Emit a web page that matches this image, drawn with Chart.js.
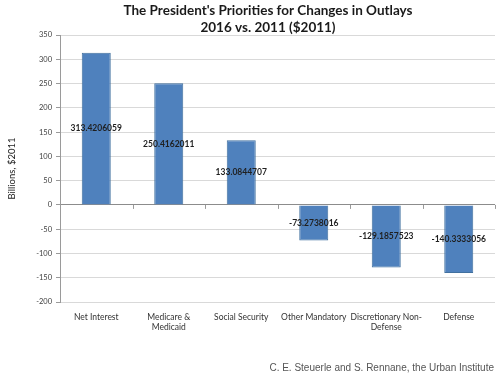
<!DOCTYPE html>
<html><head><meta charset="utf-8">
<script src="https://cdn.jsdelivr.net/npm/chart.js@4"></script>
<style>html,body{margin:0;padding:0;background:#fff}#wrap{width:500px;height:378px;position:relative}</style>
</head><body><div id="wrap"><canvas id="c" width="500" height="378"></canvas></div>
<script>
const categories = [["Net Interest"], ["Medicare &", "Medicaid"], ["Social Security"], ["Other Mandatory"], ["Discretionary Non-", "Defense"], ["Defense"]];
const values = [313.4206059, 250.4162011, 133.0844707, -73.2738016, -129.1857523, -140.3333056];
const valueLabels = ["313.4206059", "250.4162011", "133.0844707", "-73.2738016", "-129.1857523", "-140.3333056"];
const titleLines = ["The President's Priorities for Changes in Outlays", "2016 vs. 2011 ($2011)"];
const yTitle = "Billions, $2011";
const footer = "C. E. Steuerle and S. Rennane, the Urban Institute";
const yMin = -200, yMax = 350, yStep = 50;

const decor = {
  id: 'decor',
  afterDatasetsDraw(chart) {
    const ctx = chart.ctx;
    const x = chart.scales.x, y = chart.scales.y;
    const y0 = y.getPixelForValue(0);
    // category tick marks on zero axis
    ctx.save();
    ctx.strokeStyle = '#9a9a9a';
    ctx.lineWidth = 1;
    const n = categories.length;
    const half = (x.getPixelForValue(1) - x.getPixelForValue(0)) / 2;
    for (let i = 0; i <= n; i++) {
      const px = Math.round(x.getPixelForValue(i) - half) + 0.5;
      ctx.beginPath(); ctx.moveTo(px, y0); ctx.lineTo(px, y0 + 4); ctx.stroke();
    }
    // value labels
    const meta = chart.getDatasetMeta(0);
    ctx.font = 'bold 8.5px Lato';
    ctx.fillStyle = '#1f1f1f';
    ctx.textAlign = 'center';
    ctx.textBaseline = 'middle';
    meta.data.forEach((el, i) => {
      ctx.fillText(valueLabels[i], el.x, (el.y + el.base) / 2);
    });
    // title
    ctx.font = 'bold 13.5px Lato';
    ctx.fillStyle = '#1a1a1a';
    titleLines.forEach((t, i) => ctx.fillText(t, 268, 11 + i * 17));
    // footer
    ctx.font = '10px "Liberation Sans"';
    ctx.fillStyle = '#555';
    ctx.textAlign = 'right';
    ctx.fillText(footer, 494, 368);
    ctx.restore();
  }
};

new Chart(document.getElementById('c'), {
  type: 'bar',
  data: {
    labels: categories,
    datasets: [{
      data: values,
      backgroundColor: '#4f81bd',
      borderColor: '#41709f',
      borderWidth: 1,
      barPercentage: 0.4,
      categoryPercentage: 1.0
    }]
  },
  options: {
    responsive: false,
    animation: false,
    devicePixelRatio: 1,
    layout: { padding: { top: 35, right: 5, left: 0, bottom: 0 } },
    plugins: { legend: { display: false }, tooltip: { enabled: false }, title: { display: false } },
    scales: {
      x: {
        grid: { display: false, drawTicks: false },
        border: { display: false },
        ticks: { font: { family: 'Lato', size: 8.5 }, color: '#333', padding: 10, maxRotation: 0, autoSkip: false },
        afterFit(s) { s.height = 76; }
      },
      y: {
        min: yMin, max: yMax,
        ticks: { stepSize: yStep, font: { family: 'Lato', size: 7.5 }, color: '#404040', padding: 4 },
        grid: {
          color: (c) => c.tick && c.tick.value === 0 ? '#8c8c8c' : '#d9d9d9',
          tickLength: 4,
          tickColor: '#9a9a9a'
        },
        border: { display: true, color: '#9a9a9a' },
        title: { display: true, text: yTitle, font: { family: 'Lato', size: 9.5 }, color: '#222', padding: { top: 6, bottom: 8 } },
        afterFit(s) { s.width = 60; }
      }
    }
  },
  plugins: [decor]
});
</script></body></html>
